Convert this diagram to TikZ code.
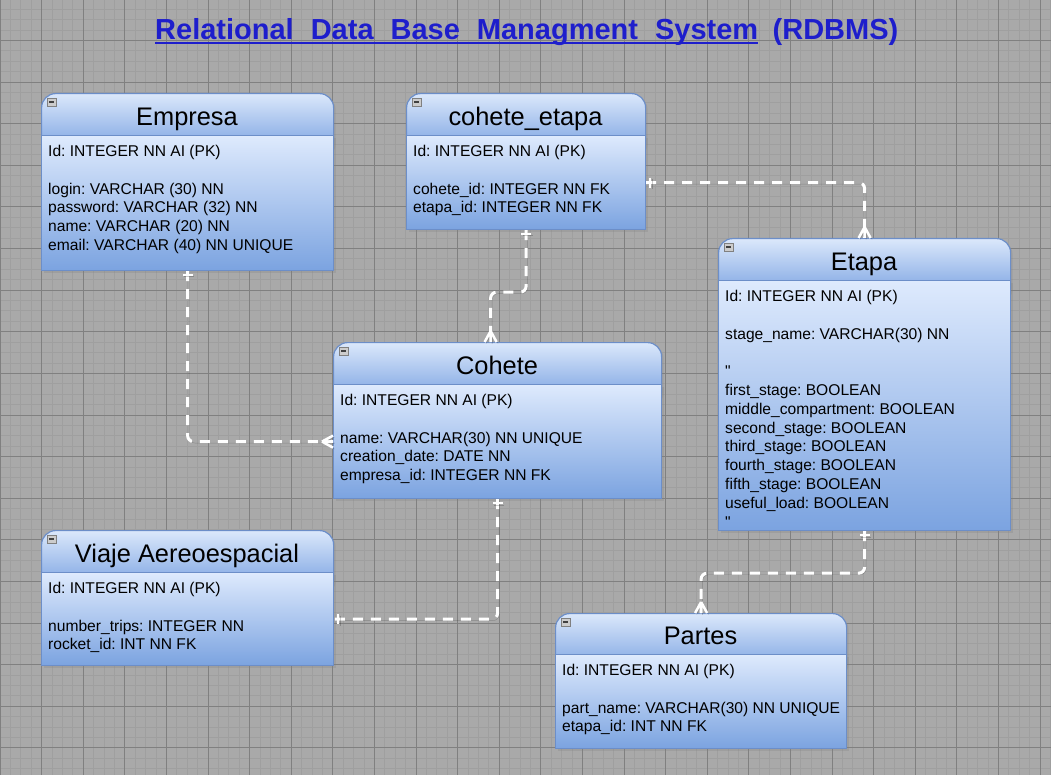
\documentclass[tikz,border=0pt]{standalone}
\usepackage{fontspec}
\setmainfont{Liberation Sans}
\usetikzlibrary{shadows}
\frenchspacing

\definecolor{bgcol}{RGB}{169,169,169}
\definecolor{gridminor}{RGB}{159,159,159}
\definecolor{gridmajor}{RGB}{128,128,128}
\definecolor{hdtop}{RGB}{219,232,251}
\definecolor{hdbot}{RGB}{114,156,223}
\definecolor{bdtop}{RGB}{222,234,253}
\definecolor{bdbot}{RGB}{123,163,224}
\definecolor{erline}{RGB}{108,142,200}
\definecolor{titleblue}{RGB}{30,30,204}

\begin{document}
\begin{tikzpicture}[x=1pt, y=-1pt,
  erhead/.style={anchor=north west, minimum height=62pt, inner sep=0pt, rounded corners=14pt,
    draw=erline, line width=1.2pt, top color=hdtop, bottom color=hdbot,
    drop shadow={opacity=.25, shadow xshift=2pt, shadow yshift=-2pt}},
  erbody/.style={anchor=north west, inner sep=0pt, draw=erline, line width=1.2pt,
    top color=bdtop, bottom color=bdbot,
    drop shadow={opacity=.25, shadow xshift=2pt, shadow yshift=-2pt}},
  ertitle/.style={anchor=base, inner sep=0pt, font=\fontsize{25.4}{30}\selectfont},
  ertext/.style={anchor=north west, inner sep=0pt, align=left, font=\fontsize{15.6}{18.8}\selectfont},
  minbtn/.style={draw=black!50, fill=black!20, line width=.6pt, minimum width=9pt, minimum height=8pt, inner sep=0pt,
    path picture={\draw[black!75, line width=1.2pt] ([xshift=2pt]path picture bounding box.west) -- ([xshift=-2pt]path picture bounding box.east);}},
  maintitle/.style={anchor=base west, inner sep=0pt, text=titleblue,
    font=\fontsize{29}{34}\selectfont\bfseries},
  rel/.style={white, line width=3pt, dash pattern=on 10pt off 8pt, rounded corners=6pt,
    preaction={draw=black, opacity=.2, transform canvas={shift={(1.5pt,-1.5pt)}}}},
  relmark/.style={white, line width=2.5pt, solid,
    preaction={draw=black, opacity=.2, transform canvas={shift={(1.5pt,-1.5pt)}}}},
  crowfoot/.pic={\draw[relmark] (-11pt,0) -- (0,6pt) (-11pt,0) -- (0,0) (-11pt,0) -- (0,-6pt);},
  onemark/.pic={\draw[relmark] (-4pt,-5pt) -- (-4pt,5pt);}]

  \useasboundingbox (0,0) rectangle (1051,775);

  % background grid
  \fill[bgcol] (0,0) rectangle (1051,775);
  \foreach \i in {0,...,101} \draw[gridminor, line width=1pt] (\i*10.4,0) -- (\i*10.4,775);
  \foreach \j in {0,...,74} \draw[gridminor, line width=1pt] (0,\j*10.4-1) -- (1051,\j*10.4-1);
  \foreach \i in {0,...,25} \draw[gridmajor, line width=1pt] (\i*41.6,0) -- (\i*41.6,775);
  \foreach \j in {0,...,18} \draw[gridmajor, line width=1pt] (0,\j*41.6-1) -- (1051,\j*41.6-1);

  % title
  \node[maintitle] (titleA) at (155,39.5) {\spaceskip=17pt\relax Relational Data Base Managment System};
  \node[maintitle] (titleB) at ([xshift=14pt]titleA.base east) {(RDBMS)};
  \draw[titleblue, line width=2.2pt] ([yshift=-3.2pt]titleA.base west) -- ([yshift=-3.2pt]titleA.base east);

  % Empresa
  \node[erhead, minimum width=292pt] (empresaH) at (41,93) {};
  \node[erbody, minimum width=292pt, minimum height=135pt] (empresa) at (41,135) {};
  \node[minbtn] (empresaM) at (51.5,102) {};
  \node[ertitle] (empresaT) at (187,125.5) {Empresa};
  \node[ertext] (empresaF) at (48,145) {Id: INTEGER NN AI (PK)\\[18.8pt]
    login: VARCHAR (30) NN\\ password: VARCHAR (32) NN\\ name: VARCHAR (20) NN\\
    email: VARCHAR (40) NN UNIQUE};

  % cohete_etapa
  \node[erhead, minimum width=239pt] (cohetetapaH) at (406,93) {};
  \node[erbody, minimum width=239pt, minimum height=94pt] (cohetetapa) at (406,135) {};
  \node[minbtn] (cohetetapaM) at (416.5,102) {};
  \node[ertitle] (cohetetapaT) at (525.5,125.5) {cohete\_etapa};
  \node[ertext] (cohetetapaF) at (413,145) {Id: INTEGER NN AI (PK)\\[18.8pt]
    cohete\_id: INTEGER NN FK\\ etapa\_id: INTEGER NN FK};

  % Etapa
  \node[erhead, minimum width=292pt] (etapaH) at (718,238) {};
  \node[erbody, minimum width=292pt, minimum height=250pt] (etapa) at (718,280) {};
  \node[minbtn] (etapaM) at (728.5,247) {};
  \node[ertitle] (etapaT) at (864,270.5) {Etapa};
  \node[ertext] (etapaF) at (725,290) {Id: INTEGER NN AI (PK)\\[18.8pt]
    stage\_name: VARCHAR(30) NN\\[18.8pt]
    \textquotedbl\\ first\_stage: BOOLEAN\\ middle\_compartment: BOOLEAN\\ second\_stage: BOOLEAN\\
    third\_stage: BOOLEAN\\ fourth\_stage: BOOLEAN\\ fifth\_stage: BOOLEAN\\
    useful\_load: BOOLEAN\\ \textquotedbl};

  % Cohete
  \node[erhead, minimum width=328pt] (coheteH) at (333,342) {};
  \node[erbody, minimum width=328pt, minimum height=114pt] (cohete) at (333,384) {};
  \node[minbtn] (coheteM) at (343.5,351) {};
  \node[ertitle] (coheteT) at (497,374.5) {Cohete};
  \node[ertext] (coheteF) at (340,394) {Id: INTEGER NN AI (PK)\\[18.8pt]
    name: VARCHAR(30) NN UNIQUE\\ creation\_date: DATE NN\\ empresa\_id: INTEGER NN FK};

  % Viaje Aereoespacial
  \node[erhead, minimum width=292pt] (viajeH) at (41,530) {};
  \node[erbody, minimum width=292pt, minimum height=93pt] (viaje) at (41,572) {};
  \node[minbtn] (viajeM) at (51.5,539) {};
  \node[ertitle] (viajeT) at (187,562.5) {Viaje Aereoespacial};
  \node[ertext] (viajeF) at (48,582) {Id: INTEGER NN AI (PK)\\[18.8pt]
    number\_trips: INTEGER NN\\ rocket\_id: INT NN FK};

  % Partes
  \node[erhead, minimum width=291pt] (partesH) at (555,613) {};
  \node[erbody, minimum width=291pt, minimum height=94pt] (partes) at (555,654) {};
  \node[minbtn] (partesM) at (565.5,622) {};
  \node[ertitle] (partesT) at (700.5,644.5) {Partes};
  \node[ertext] (partesF) at (562,664) {Id: INTEGER NN AI (PK)\\[18.8pt]
    part\_name: VARCHAR(30) NN UNIQUE\\ etapa\_id: INT NN FK};

  % relations
  \draw[rel] (empresa.south) |- (cohete.west);
  \pic[rotate=90] at (empresa.south) {onemark};
  \pic at (cohete.west) {crowfoot};

  \draw[rel] (cohetetapa.south) -- ++(0,62) -| ([xshift=-7pt]coheteH.north);
  \pic[rotate=90] at (cohetetapa.south) {onemark};
  \pic[rotate=-90] at ([xshift=-7pt]coheteH.north) {crowfoot};

  \draw[rel] (cohetetapa.east) -| (etapaH.north);
  \pic[rotate=180] at (cohetetapa.east) {onemark};
  \pic[rotate=-90] at (etapaH.north) {crowfoot};

  \draw[rel] (cohete.south) |- (viaje.east);
  \pic[rotate=90] at (cohete.south) {onemark};
  \pic[rotate=180] at (viaje.east) {onemark};

  \draw[rel] (etapa.south) -- ++(0,42) -| (partesH.north);
  \pic[rotate=90] at (etapa.south) {onemark};
  \pic[rotate=-90] at (partesH.north) {crowfoot};
\end{tikzpicture}
\end{document}
